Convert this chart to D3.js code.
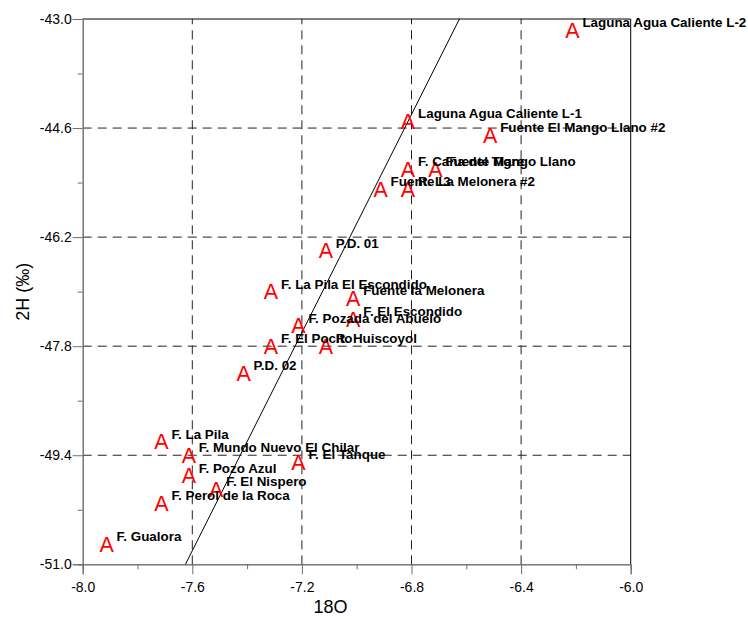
<!DOCTYPE html>
<html><head><meta charset="utf-8">
<script src="https://cdn.jsdelivr.net/npm/d3@7"></script>
<style>
html,body{margin:0;padding:0;background:#fff;}
svg{display:block;font-family:"Liberation Sans",Arial,sans-serif;}
</style></head>
<body><svg id="c" width="748" height="619"></svg>
<script>
// ---- data ----
const sites = ["Laguna Agua Caliente L-2","Laguna Agua Caliente L-1","Fuente El Mango Llano #2",
  "F. Caña del Tigre","Fuente Mango Llano","Fuente La Melonera #2","R. L3","P.D. 01",
  "F. La Pila El Escondido","Fuente la Melonera","F. El Escondido","F. Pozada del Abuelo",
  "F. El Pocito","R. Huiscoyol","P.D. 02","F. La Pila","F. Mundo Nuevo El Chilar","F. El Tanque",
  "F. Pozo Azul","F. El Nispero","F. Perol de la Roca","F. Gualora"];
const d18O = [-6.2,-6.8,-6.5,-6.8,-6.7,-6.9,-6.8,-7.1,-7.3,-7.0,-7.0,-7.2,-7.3,-7.1,-7.4,-7.7,-7.6,-7.2,-7.6,-7.5,-7.7,-7.9];
const d2H  = [-43.16,-44.5,-44.7,-45.2,-45.2,-45.5,-45.5,-46.4,-47.0,-47.1,-47.4,-47.5,-47.8,-47.8,-48.2,-49.2,-49.4,-49.5,-49.7,-49.9,-50.1,-50.7];
const xTicks = [-8.0,-7.6,-7.2,-6.8,-6.4,-6.0];
const xMinor = [-7.8,-7.4,-7.0,-6.6,-6.2];
const yTicks = [-51.0,-49.4,-47.8,-46.2,-44.6,-43.0];
const yMinor = [-50.2,-48.6,-47.0,-45.4,-43.8];
const xGrid = [-7.6,-7.2,-6.8,-6.4];
const yGrid = [-49.4,-47.8,-46.2,-44.6];
const gmwlX = [-7.625,-6.625];           // meteoric water line d2H = 8*d18O + 10
const gmwl = x => 8*x + 10;
const xTitle = "18O", yTitle = "2H (‰)";

// ---- layout ----
const L=82.7, R=630.7, T=19, B=564.3;
const x = d3.scaleLinear([-8,-6],[L,R]);
const y = d3.scaleLinear([-51,-43],[B,T]);
const svg = d3.select("#c");
const fmt = d => d.toFixed(1);
const axCol = "#6e6e6e";

// grid
svg.append("g").selectAll("line").data(xGrid).join("line")
  .attr("x1",d=>x(d)).attr("x2",d=>x(d)).attr("y1",B).attr("y2",T)
  .attr("stroke","#222").attr("stroke-dasharray","9,6").attr("stroke-width",1);
svg.append("g").selectAll("line").data(yGrid).join("line")
  .attr("x1",L).attr("x2",R).attr("y1",d=>y(d)).attr("y2",d=>y(d))
  .attr("stroke","#222").attr("stroke-dasharray","9,6").attr("stroke-width",1);

// frame top/right
svg.append("line").attr("x1",L).attr("x2",R).attr("y1",T).attr("y2",T).attr("stroke","#000");
svg.append("line").attr("x1",R).attr("x2",R).attr("y1",T).attr("y2",B).attr("stroke","#000");

// axes
const gx = svg.append("g").attr("transform",`translate(0,${B})`)
  .call(d3.axisBottom(x).tickValues(xTicks).tickFormat(fmt).tickSize(10).tickPadding(8));
const gxm = svg.append("g").attr("transform",`translate(0,${B})`)
  .call(d3.axisBottom(x).tickValues(xMinor).tickFormat("").tickSize(5));
const gy = svg.append("g").attr("transform",`translate(${L},0)`)
  .call(d3.axisLeft(y).tickValues(yTicks).tickFormat(fmt).tickSize(10).tickPadding(1));
const gym = svg.append("g").attr("transform",`translate(${L},0)`)
  .call(d3.axisLeft(y).tickValues(yMinor).tickFormat("").tickSize(5));
[gx,gxm,gy,gym].forEach(g=>{
  g.select(".domain").attr("stroke",axCol);
  g.selectAll(".tick line").attr("stroke",axCol);
  g.selectAll("text").attr("font-size",14).attr("fill","#000")
   .attr("font-family","'Liberation Sans',Arial,sans-serif");
});

// water line
svg.append("line").attr("x1",x(gmwlX[0])).attr("y1",y(gmwl(gmwlX[0])))
  .attr("x2",x(gmwlX[1])).attr("y2",y(gmwl(gmwlX[1]))).attr("stroke","#000").attr("stroke-width",1);

// points
const pts = sites.map((s,i)=>({s, x:d18O[i], y:d2H[i]}));
svg.append("g").selectAll("text").data(pts).join("text")
  .attr("x",d=>x(d.x)-3.5).attr("y",d=>y(d.y)+7.7)
  .attr("text-anchor","middle").attr("font-size",21.5).attr("fill","#ff0000").text("A");
svg.append("g").selectAll("text").data(pts).join("text")
  .attr("x",d=>x(d.x)+6.5).attr("y",d=>y(d.y)-3)
  .attr("font-size",13.4).attr("font-weight","bold").attr("fill","#000").text(d=>d.s);

// titles
svg.append("text").attr("x",330.5).attr("y",613).attr("text-anchor","middle")
  .attr("font-size",18).text(xTitle);
svg.append("text").attr("transform",`translate(29,${(T+B)/2}) rotate(-90)`)
  .attr("text-anchor","middle").attr("font-size",18).text(yTitle);
</script></body></html>
